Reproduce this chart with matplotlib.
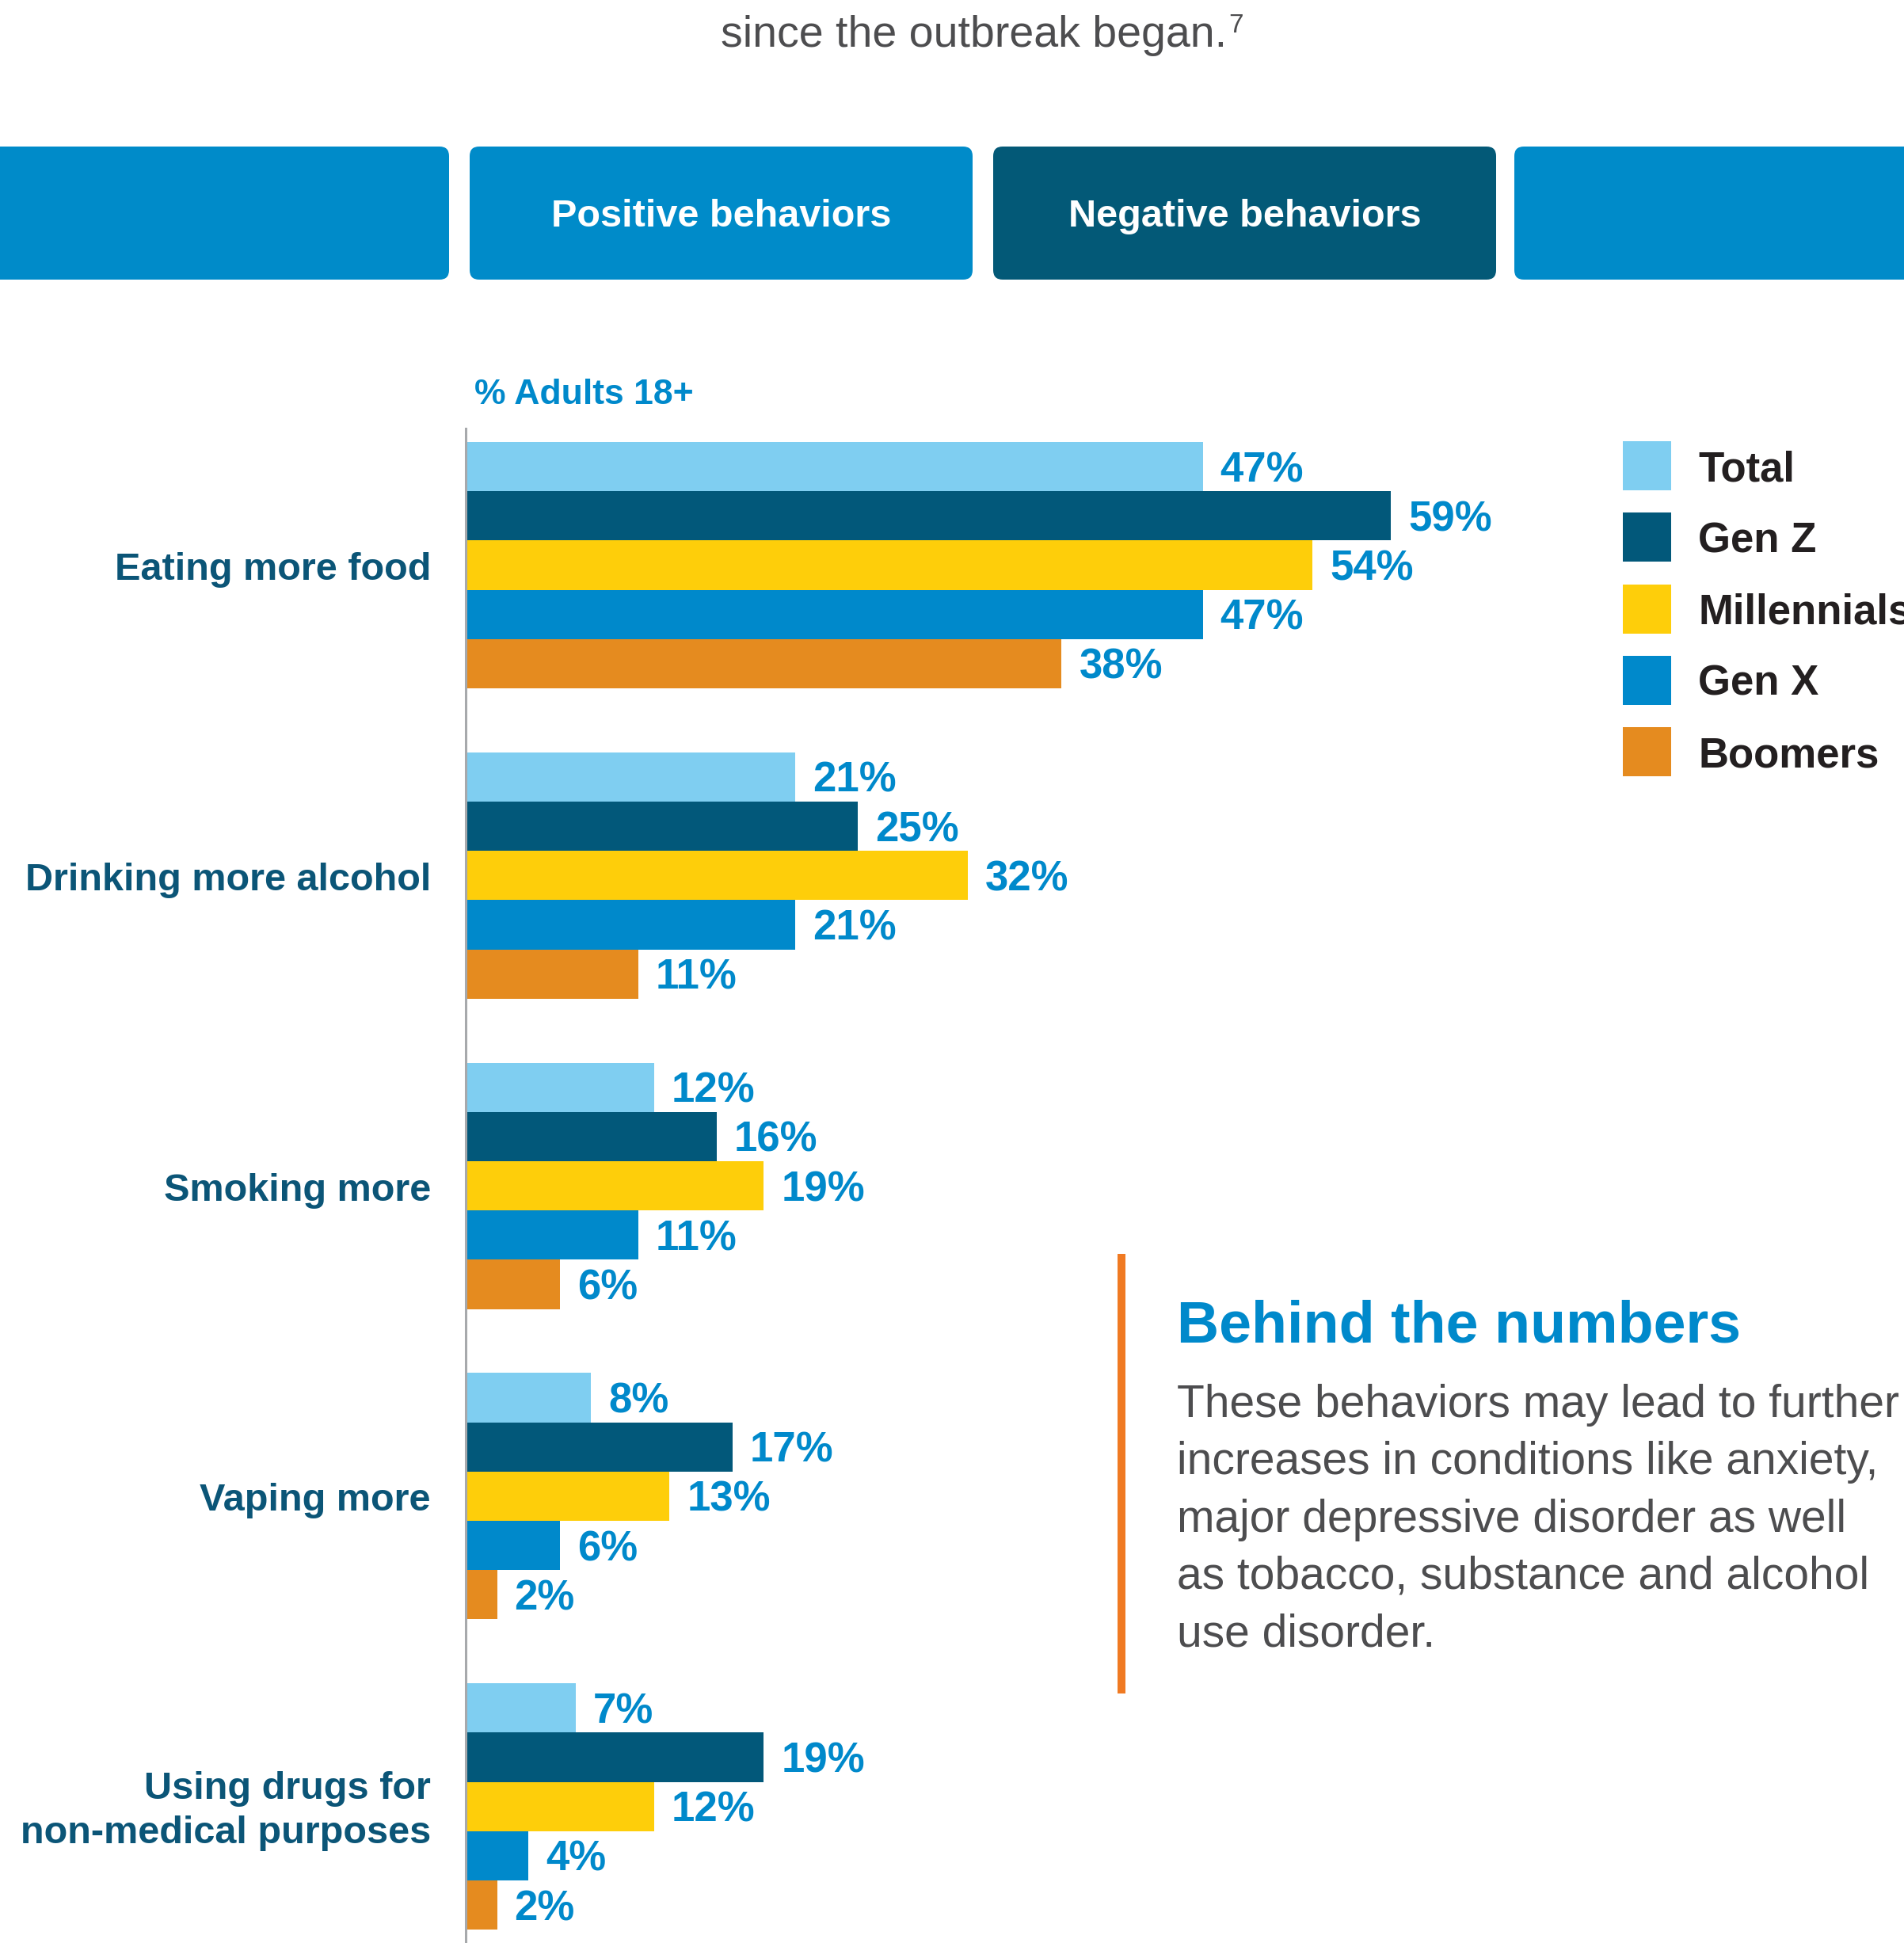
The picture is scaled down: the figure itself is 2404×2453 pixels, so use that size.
import matplotlib
matplotlib.use('Agg')
import matplotlib.pyplot as plt
from matplotlib.patches import FancyBboxPatch, Rectangle
import numpy as np

plt.rcParams['font.family'] = ['Liberation Sans', 'DejaVu Sans']

# ── data ──────────────────────────────────────
categories = ['Eating more food', 'Drinking more alcohol', 'Smoking more',
              'Vaping more', 'Using drugs for\nnon-medical purposes']
groups = ['Total', 'Gen Z', 'Millennials', 'Gen X', 'Boomers']
total = [47, 21, 12, 8, 7]
gen_z = [59, 25, 16, 17, 19]
millennials = [54, 32, 19, 13, 12]
gen_x = [47, 21, 11, 6, 4]
boomers = [38, 11, 6, 2, 2]

tabs = ['', 'Positive behaviors', 'Negative behaviors', '']
title = 'since the outbreak began.'
note_title = 'Behind the numbers'
note_lines = ['These behaviors may lead to further',
              'increases in conditions like anxiety,',
              'major depressive disorder as well',
              'as tobacco, substance and alcohol',
              'use disorder.']

# ── styles ────────────────────────────────────
COLORS = {
    'Total': '#7FCEF1',
    'Gen Z': '#02587A',
    'Millennials': '#FECE0A',
    'Gen X': '#0089CB',
    'Boomers': '#E58B1F',
}
TAB_COLORS = ['#008BC9', '#008BC9', '#035977', '#008BC9']
BLUE = '#0089CB'
CAT_COLOR = '#0B5577'
GRAY_TXT = '#4D4D4F'

W, H = 2404, 2453
fig = plt.figure(figsize=(W / 100, H / 100), dpi=100)
fig.patch.set_facecolor('white')

# overlay axes in pixel coordinates for the decorations
bg = fig.add_axes([0, 0, 1, 1])
bg.set_xlim(0, W)
bg.set_ylim(H, 0)
bg.axis('off')

# title (top line cut off in the original)
t = bg.text(1230, 45, title, ha='center', va='center', fontsize=40, color=GRAY_TXT)
bg.annotate('7', xy=(1, 1), xycoords=t, xytext=(2, 2), textcoords='offset pixels',
            ha='left', va='top', fontsize=24, color=GRAY_TXT)

# tab boxes
tab_x = [(-30, 567), (593, 1228), (1254, 1889), (1912, 2440)]
for (x0, x1), lab, c in zip(tab_x, tabs, TAB_COLORS):
    bg.add_patch(FancyBboxPatch((x0, 185), x1 - x0, 168,
                                boxstyle='round,pad=0,rounding_size=12',
                                fc=c, ec='none'))
    if lab:
        bg.text((x0 + x1) / 2, 274, lab, ha='center', va='center',
                fontsize=35, fontweight='bold', color='white')

bg.text(599, 499, '% Adults 18+', ha='left', va='center', fontsize=32,
        fontweight='bold', color=BLUE)

# legend (last label runs off the right edge, as in the original)
for k, g in enumerate(groups):
    yc = 588 + k * 90.3
    bg.add_patch(Rectangle((2049, yc - 31), 61, 62, fc=COLORS[g], ec='none'))
    bg.text(2144, yc + 5, g, ha='left', va='center', fontsize=38,
            fontweight='bold', color='#231F20')

# behind the numbers
bg.plot([1416, 1416], [1583, 2138], color='#F07A22', lw=7.2, solid_capstyle='butt')
bg.text(1486, 1675, note_title, ha='left', va='center', fontsize=53,
        fontweight='bold', color=BLUE)
for k, line in enumerate(note_lines):
    bg.text(1486, 1774 + k * 72.3, line, ha='left', va='center', fontsize=41,
            color=GRAY_TXT)

# ── bars ──────────────────────────────────────
ax = fig.add_axes([588 / W, 0, (W - 588) / W, (H - 541) / H])
ax.set_facecolor('none')
series = [total, gen_z, millennials, gen_x, boomers]
gap = 6.3
base = np.arange(len(categories)) * gap
for j, (g, vals) in enumerate(zip(groups, series)):
    y = base + j
    ax.barh(y, vals, height=1.0, color=COLORS[g], linewidth=0, zorder=2)
    for yy, v in zip(y, vals):
        ax.annotate(f'{v}%', xy=(v, yy), xytext=(22, -5), textcoords='offset pixels',
                    ha='left', va='center', fontsize=38, fontweight='bold', color=BLUE)

for i, cat in enumerate(categories):
    ax.annotate(cat, xy=(0, base[i] + 2), xytext=(-44, -6), textcoords='offset pixels',
                ha='right', va='center', fontsize=35, fontweight='bold',
                color=CAT_COLOR, linespacing=1.32, annotation_clip=False)

ax.set_xlim(0, (W - 588) / 19.8)
ax.set_ylim(29.97, -0.773)
for s in ['top', 'right', 'bottom']:
    ax.spines[s].set_visible(False)
ax.spines['left'].set_color('#A7A9AC')
ax.spines['left'].set_linewidth(2.2)
ax.spines['left'].set_zorder(5)
ax.set_xticks([])
ax.set_yticks([])

plt.savefig('out.png', dpi=100)
plt.close()
